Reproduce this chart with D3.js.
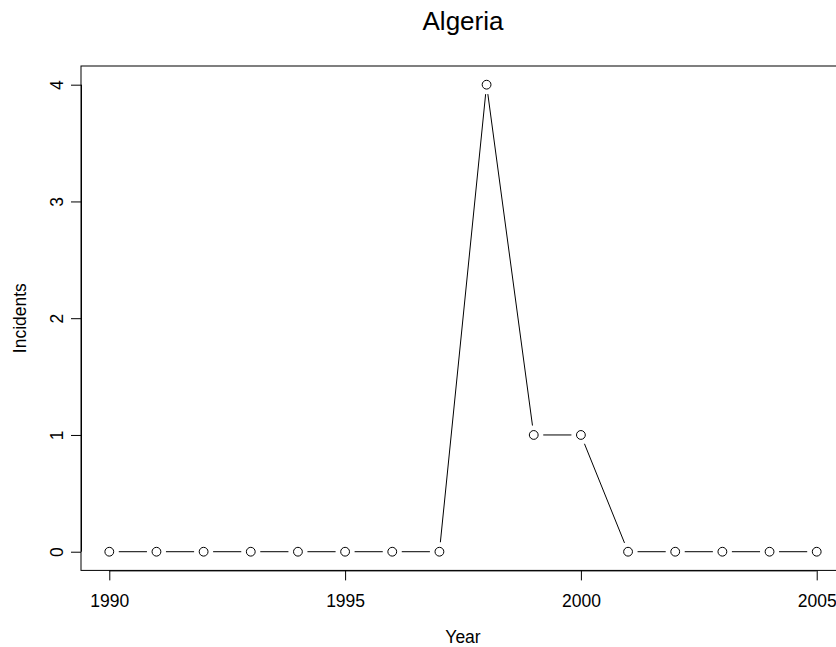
<!DOCTYPE html>
<html>
<head>
<meta charset="utf-8" />
<title>Algeria incidents</title>
<style>
  body { margin: 0; background: #fff; }
  svg { display: block; font-family: 'Liberation Sans', Arial, sans-serif; }
  .tick text { font-size: 17.5px; }
  .line { fill: none; stroke: #000; stroke-width: 1px; }
</style>
</head>
<body>
<svg width="836" height="647"></svg>
<script src="https://d3js.org/d3.v7.min.js"></script>
<script>
  // data
  var years = [1990, 1991, 1992, 1993, 1994, 1995, 1996, 1997, 1998, 1999, 2000, 2001, 2002, 2003, 2004, 2005];
  var incidents = [0, 0, 0, 0, 0, 0, 0, 0, 4, 1, 1, 0, 0, 0, 0, 0];
  var xTicks = [1990, 1995, 2000, 2005];
  var yTicks = [0, 1, 2, 3, 4];

  var svg = d3.select('svg'),
    box = { left: 81, right: 845, top: 66, bottom: 570.4 };

  // R style 4% padding on each side
  var x = d3.scaleLinear()
    .domain([1990 - 0.6, 2005 + 0.6])
    .range([box.left, box.right]);
  var y = d3.scaleLinear()
    .domain([0 - 0.16, 4 + 0.16])
    .range([box.bottom, box.top]);

  var data = years.map(function (d, i) {
    return { year: d, value: incidents[i] };
  });

  // plot frame
  svg.append('rect')
    .attr('x', box.left)
    .attr('y', box.top)
    .attr('width', box.right - box.left)
    .attr('height', box.bottom - box.top)
    .attr('fill', 'none')
    .attr('stroke', '#000')
    .attr('stroke-width', 1);

  // x axis
  var xAxis = svg.append('g')
    .attr('transform', 'translate(0,' + box.bottom + ')')
    .call(d3.axisBottom(x).tickValues(xTicks).tickFormat(d3.format('d')).tickSize(10).tickSizeOuter(0).tickPadding(14));
  xAxis.select('.domain').attr('d', 'M' + x(1990) + ',0.5H' + x(2005));
  xAxis.selectAll('text').attr('fill', '#000');

  // y axis, labels turned like R does
  var yAxis = svg.append('g')
    .attr('transform', 'translate(' + box.left + ',0)')
    .call(d3.axisLeft(y).tickValues(yTicks).tickFormat(d3.format('d')).tickSize(10).tickSizeOuter(0));
  yAxis.select('.domain').attr('d', 'M0.5,' + y(0) + 'V' + y(4));
  yAxis.selectAll('.tick text')
    .attr('x', null)
    .attr('dy', null)
    .attr('text-anchor', 'middle')
    .attr('transform', 'translate(-18,0) rotate(-90)')
    .attr('fill', '#000');

  // segments between points, with a gap round each point (type = "b")
  var gap = 9.5;
  var segs = d3.pairs(data).map(function (p) {
    var x0 = x(p[0].year), y0 = y(p[0].value),
      x1 = x(p[1].year), y1 = y(p[1].value),
      len = Math.hypot(x1 - x0, y1 - y0),
      ux = (x1 - x0) / len, uy = (y1 - y0) / len;
    return [x0 + ux * gap, y0 + uy * gap, x1 - ux * gap, y1 - uy * gap];
  });
  svg.selectAll('.seg')
    .data(segs)
    .enter()
    .append('line')
    .attr('class', 'line seg')
    .attr('x1', function (d) { return d[0]; })
    .attr('y1', function (d) { return d[1]; })
    .attr('x2', function (d) { return d[2]; })
    .attr('y2', function (d) { return d[3]; });

  svg.selectAll('.pt')
    .data(data)
    .enter()
    .append('circle')
    .attr('class', 'pt')
    .attr('cx', function (d) { return x(d.year); })
    .attr('cy', function (d) { return y(d.value); })
    .attr('r', 4.4)
    .attr('fill', 'none')
    .attr('stroke', '#000')
    .attr('stroke-width', 1);

  // titles
  svg.append('text')
    .attr('x', (box.left + box.right) / 2)
    .attr('y', 29.5)
    .attr('text-anchor', 'middle')
    .style('font-size', '26px')
    .text('Algeria');

  svg.append('text')
    .attr('x', (box.left + box.right) / 2)
    .attr('y', 642.5)
    .attr('text-anchor', 'middle')
    .style('font-size', '17.5px')
    .text('Year');

  svg.append('text')
    .attr('transform', 'translate(25.5,' + (box.top + box.bottom) / 2 + ') rotate(-90)')
    .attr('text-anchor', 'middle')
    .style('font-size', '17.5px')
    .text('Incidents');
</script>
</body>
</html>
